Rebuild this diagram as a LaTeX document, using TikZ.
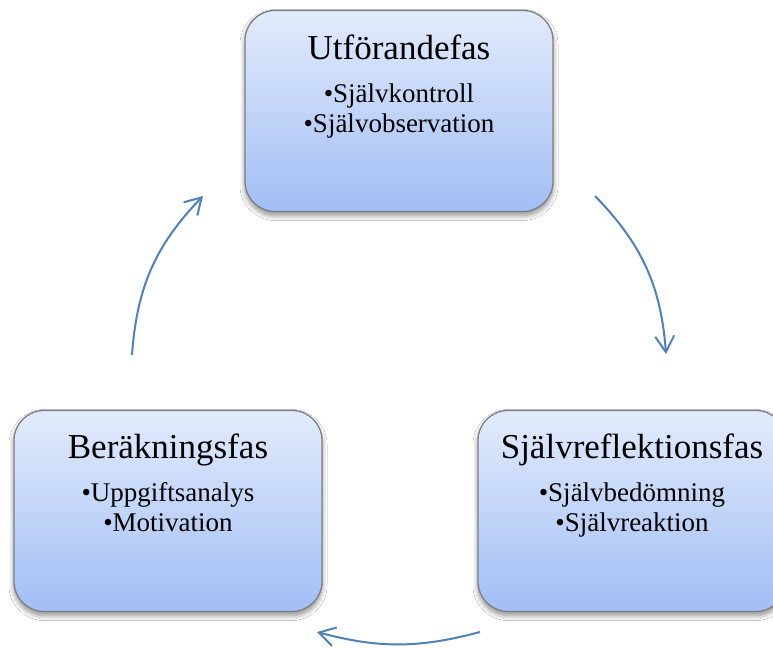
\documentclass[tikz,border=0pt]{standalone}
\usepackage{fontspec}
\setmainfont{Liberation Serif}
\usetikzlibrary{arrows.meta,shadows.blur}
\definecolor{boxtop}{HTML}{E2EBFC}
\definecolor{boxbot}{HTML}{A2BEF5}
\definecolor{boxline}{HTML}{7F7F7F}
\definecolor{arrowblue}{HTML}{4F81BD}
\tikzset{
  phasebox/.style={rectangle, rounded corners=30pt, draw=boxline, line width=1.3pt,
    top color=boxtop, bottom color=boxbot, minimum width=308pt, minimum height=201pt,
    inner sep=0pt,
    blur shadow={shadow xshift=0pt, shadow yshift=-4pt, shadow blur radius=5pt, shadow blur steps=10, shadow opacity=45}},
  phasetitle/.style={anchor=base, inner sep=0pt, font=\fontsize{35}{40}\selectfont},
  phaseitem/.style={anchor=base, inner sep=0pt, font=\fontsize{27}{30}\selectfont},
  cyclearrow/.style={draw=arrowblue, line width=2pt,
    -{Straight Barb[length=16pt,width=19pt,line width=2pt]}}
}
\begin{document}
\begin{tikzpicture}[x=1pt,y=1pt]
\useasboundingbox (0,0) rectangle (773,648);
\fill[white] (0,0) rectangle (773,648);
% boxes
\node[phasebox] (top) at (399,537) {};
\node[phasebox] (left) at (168,137) {};
\node[phasebox] (right) at (632,137) {};
% texts
\node[phasetitle] (ttop) at ([yshift=-50pt]top.north) {Utförandefas};
\node[phaseitem] (ttop1) at ([yshift=-93pt]top.north) {\textbullet Självkontroll};
\node[phaseitem] (ttop2) at ([yshift=-123pt]top.north) {\textbullet Självobservation};
\node[phasetitle] (tleft) at ([yshift=-49pt]left.north) {Beräkningsfas};
\node[phaseitem] (tleft1) at ([yshift=-92pt]left.north) {\textbullet Uppgiftsanalys};
\node[phaseitem] (tleft2) at ([yshift=-122pt]left.north) {\textbullet Motivation};
\node[phasetitle] (tright) at ([yshift=-49pt]right.north) {Självreflektionsfas};
\node[phaseitem] (tright1) at ([yshift=-92pt]right.north) {\textbullet Självbedömning};
\node[phaseitem] (tright2) at ([yshift=-122pt]right.north) {\textbullet Självreaktion};
% arrow end points
\coordinate (a1s) at (132,293);
\coordinate (a1e) at (203,452);
\coordinate (a2s) at (595,452);
\coordinate (a2e) at (666,294);
\coordinate (a3s) at (480,16);
\coordinate (a3e) at (317,16);
\draw[cyclearrow] (a1s) to[bend left=20] (a1e);
\draw[cyclearrow] (a2s) to[bend left=20] (a2e);
\draw[cyclearrow] (a3s) to[bend left=15] (a3e);
\end{tikzpicture}
\end{document}
